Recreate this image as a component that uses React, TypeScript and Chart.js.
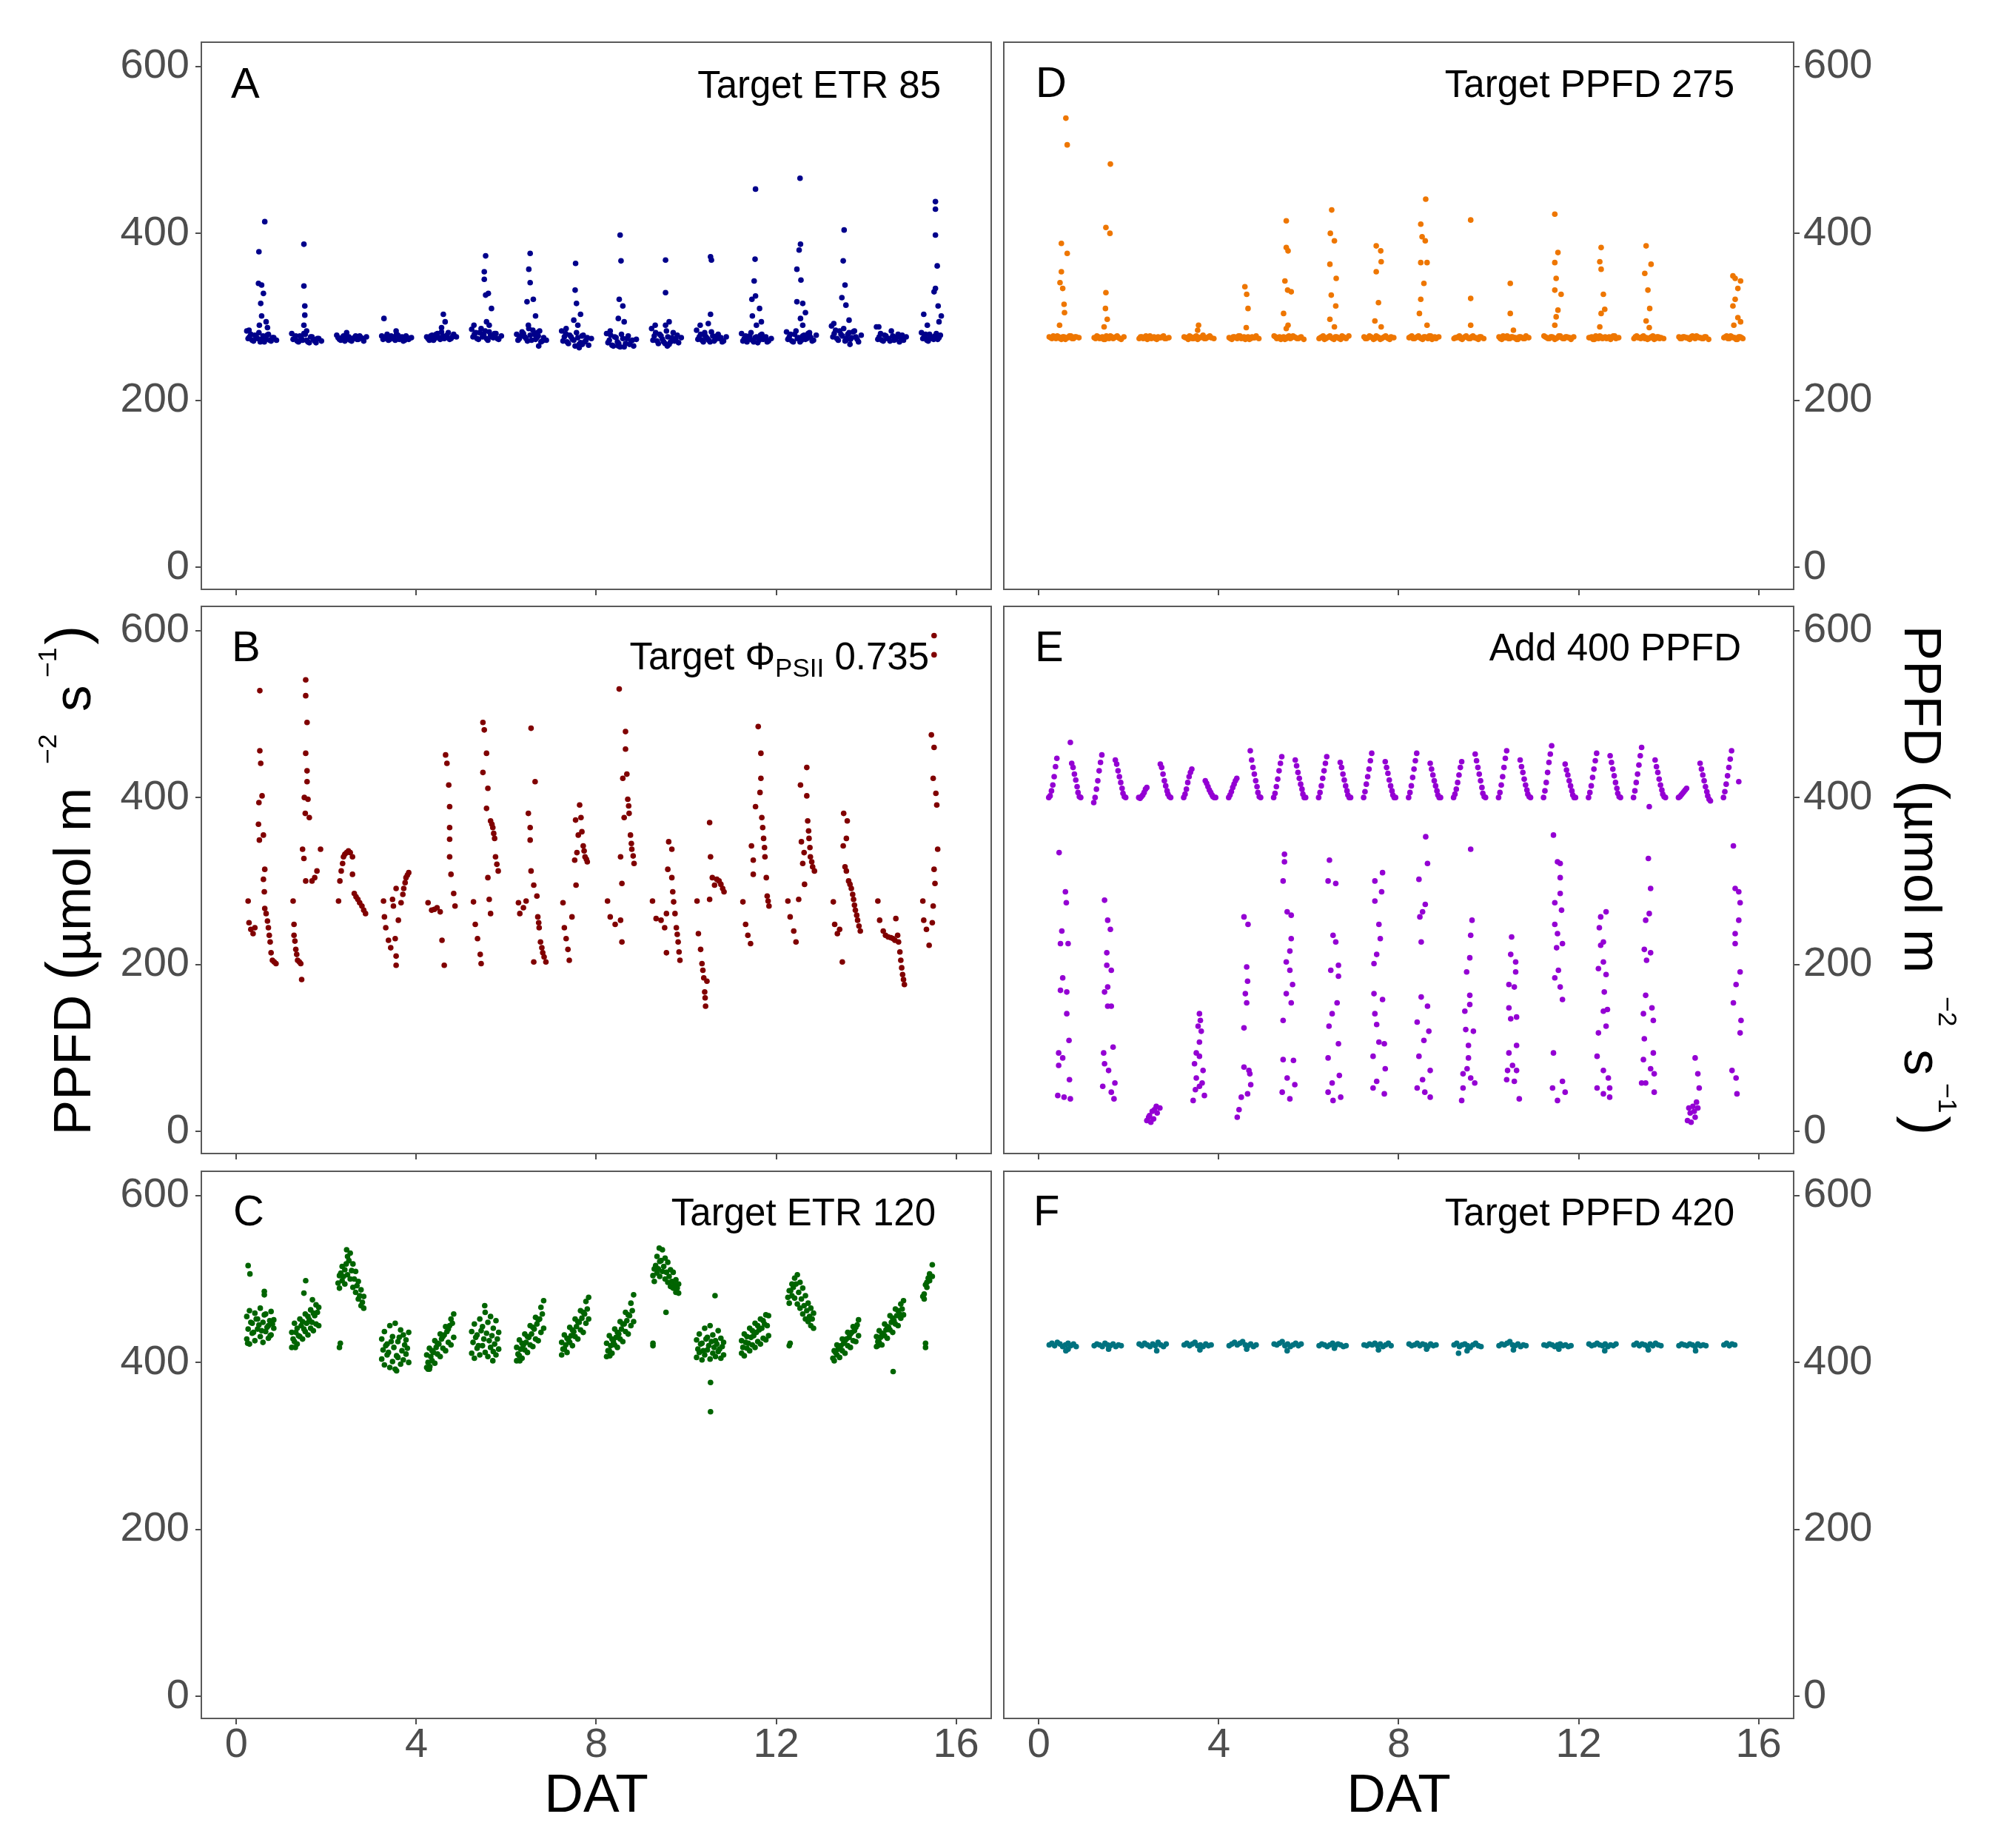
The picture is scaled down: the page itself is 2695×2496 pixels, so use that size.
import React, { useEffect, useRef } from 'react';
import { Chart, registerables } from 'chart.js';

Chart.register(...registerables);

const FONT = "'Liberation Sans', Arial, Helvetica, sans-serif";

// axes (shared by all six facets)
const xTicks = [0, 4, 8, 12, 16];
const yTicks = [0, 200, 400, 600];
const X_MIN = -0.78;
const X_MAX = 16.78;
const Y_MIN = -26.5;
const Y_MAX = 629;

// time of day (fraction of a day) of the regular readings
const slotFrac = [0.23, 0.29, 0.35, 0.41, 0.47, 0.53, 0.59, 0.65, 0.71, 0.77, 0.83, 0.89];
const slotMid = [0.26, 0.32, 0.38, 0.44, 0.5, 0.56, 0.62, 0.68, 0.74, 0.8];
// morning / evening readings of panel E
const eSlot = [0.22, 0.25, 0.28, 0.31, 0.34, 0.37, 0.4, 0.7, 0.73, 0.76, 0.79, 0.82, 0.85, 0.87, 0.9, 0.93];

const _ = null;

// ---- A : Target ETR 85 ----
const aBase = [
  [283, 276, 272, 278, 274, 270, 277, 273, 279, 271, 275, 272],
  [280, 274, 271, 277, 272, 279, 270, 276, 273, 269, 274, 271],
  [278, 273, 275, 271, 276, 272, 274, 277, 273, 275, 271, 276],
  [277, 274, 279, 273, 276, 272, 278, 274, 271, 277, 273, 275],
  [276, 272, 278, 274, 280, 273, 277, 275, 281, 274, 279, 276],
  [285, 279, 274, 281, 276, 283, 272, 278, 275, 280, 273, 277],
  [279, 274, 282, 276, 271, 278, 284, 273, 277, 270, 275, 272],
  [283, 276, 270, 278, 273, 265, 275, 269, 278, 272, 266, 274],
  [280, 272, 266, 276, 270, 264, 274, 268, 277, 271, 265, 273],
  [286, 277, 271, 279, 273, 268, 276, 270, 281, 274, 269, 275],
  [284, 276, 272, 278, 274, 270, 277, 273, 279, 275, 271, 276],
  [280, 274, 270, 277, 272, 275, 269, 278, 273, 276, 271, 274],
  [282, 276, 271, 279, 274, 270, 277, 273, 280, 275, 272, 278],
  [289, 280, 274, 283, 277, 271, 279, 273, 282, 276, 270, 278],
  [288, 276, 272, 278, 274, 271, 277, 273, 279, 275, 272, 276],
  [281, 276, 272, 279, 274, 277, 273, 278, _, _, _, _],
];
const aBase2 = [
  [274, 279, 271, 276, 281, 273, 270, 278, 272, 275],
  [273, 277, 270, 275, 280, 272, 269, 276, 271, 274],
  [275, 272, 277, 273, 276, 271, 275, 273, 277, 274],
  [273, 276, 272, 277, 274, 279, 273, 276, 272, 275],
  [274, 277, 272, 279, 275, 282, 274, 278, 273, 276],
  [276, 281, 273, 286, 279, 274, 282, 276, 280, 274],
  [272, 277, 280, 274, 286, 272, 279, 275, 283, 271],
  [271, 280, 268, 276, 272, 281, 267, 277, 270, 275],
  [269, 278, 265, 275, 268, 279, 264, 274, 267, 272],
  [272, 281, 268, 277, 270, 283, 267, 275, 271, 278],
  [273, 279, 270, 276, 272, 282, 271, 277, 274, 270],
  [271, 277, 273, 281, 270, 276, 272, 279, 274, 270],
  [273, 279, 270, 283, 275, 272, 278, 274, 281, 271],
  [276, 284, 272, 279, 286, 274, 281, 275, 283, 273],
  [273, 280, 271, 277, 274, 283, 272, 276, 270, 278],
  [274, 279, 271, 276, 273, 280, 275, _, _, _],
];
const aPeaks = [
  [[0.28, 284], [0.5, 378], [0.63, 414], [0.49, 340], [0.56, 338], [0.6, 328], [0.54, 316], [0.56, 301], [0.51, 290], [0.66, 294], [0.69, 287]],
  [[0.5, 387], [0.5, 337], [0.52, 313], [0.52, 302], [0.5, 290], [0.56, 283]],
  [[0.45, 281]],
  [[0.28, 298], [0.55, 283]],
  [[0.6, 303], [0.64, 294], [0.56, 287]],
  [[0.54, 373], [0.51, 354], [0.51, 345], [0.54, 326], [0.6, 328], [0.67, 310], [0.56, 294], [0.62, 290], [0.28, 290], [0.41, 281]],
  [[0.53, 376], [0.5, 357], [0.53, 341], [0.46, 318], [0.6, 321], [0.65, 301], [0.49, 290], [0.69, 281], [0.72, 265]],
  [[0.54, 364], [0.53, 332], [0.56, 316], [0.65, 303], [0.5, 296], [0.59, 290], [0.33, 286], [0.69, 267], [0.62, 263]],
  [[0.53, 398], [0.55, 367], [0.51, 321], [0.59, 313], [0.49, 298], [0.62, 294], [0.31, 283], [0.49, 265]],
  [[0.54, 368], [0.54, 329], [0.62, 294], [0.54, 290], [0.31, 290], [0.58, 265]],
  [[0.54, 372], [0.56, 368], [0.54, 303], [0.49, 292], [0.31, 290], [0.41, 281]],
  [[0.54, 453], [0.53, 369], [0.51, 343], [0.54, 325], [0.46, 321], [0.63, 310], [0.47, 301], [0.67, 294], [0.56, 290], [0.69, 276]],
  [[0.53, 466], [0.54, 387], [0.51, 380], [0.46, 357], [0.55, 344], [0.46, 318], [0.59, 316], [0.65, 305], [0.54, 298], [0.59, 290], [0.74, 278]],
  [[0.51, 404], [0.49, 367], [0.53, 338], [0.46, 323], [0.55, 314], [0.62, 296], [0.28, 292], [0.55, 272], [0.64, 267]],
  [[0.28, 288]],
  [[0.54, 438], [0.54, 429], [0.54, 398], [0.58, 361], [0.54, 334], [0.51, 330], [0.6, 313], [0.67, 301], [0.28, 303], [0.36, 290], [0.62, 294], [0.41, 276]],
];

// ---- B : Target PhiPSII 0.735 ----
const bDays = [
  [[0.26, 276], [0.28, 250], [0.32, 242], [0.37, 237], [0.41, 244], [0.52, 528], [0.52, 456], [0.54, 441], [0.57, 402], [0.5, 394], [0.49, 368], [0.6, 355], [0.51, 349], [0.63, 314], [0.6, 302], [0.62, 287], [0.63, 267], [0.66, 261], [0.69, 252], [0.71, 244], [0.73, 235], [0.75, 227], [0.77, 214], [0.8, 205], [0.84, 203], [0.88, 201]],
  [[0.26, 276], [0.28, 248], [0.28, 235], [0.3, 228], [0.32, 218], [0.34, 212], [0.36, 205], [0.4, 203], [0.43, 201], [0.45, 182], [0.54, 541], [0.54, 522], [0.57, 490], [0.54, 453], [0.57, 432], [0.57, 419], [0.51, 400], [0.59, 398], [0.53, 381], [0.62, 376], [0.47, 338], [0.5, 327], [0.54, 300], [0.68, 300], [0.74, 304], [0.79, 312], [0.87, 338]],
  [[0.27, 276], [0.3, 300], [0.33, 312], [0.36, 321], [0.38, 329], [0.41, 332], [0.45, 334], [0.49, 336], [0.53, 334], [0.58, 329], [0.58, 308], [0.62, 285], [0.66, 281], [0.7, 278], [0.74, 274], [0.79, 270], [0.83, 265], [0.87, 261]],
  [[0.27, 276], [0.29, 257], [0.32, 244], [0.38, 229], [0.43, 220], [0.55, 199], [0.53, 231], [0.49, 270], [0.55, 291], [0.47, 278], [0.6, 253], [0.66, 274], [0.7, 284], [0.72, 291], [0.75, 298], [0.77, 304], [0.8, 307], [0.83, 310], [0.55, 210]],
  [[0.26, 274], [0.34, 265], [0.4, 266], [0.46, 268], [0.53, 263], [0.57, 229], [0.62, 199], [0.65, 451], [0.68, 441], [0.72, 415], [0.74, 389], [0.74, 364], [0.74, 350], [0.74, 329], [0.77, 308], [0.83, 285], [0.86, 270]],
  [[0.27, 275], [0.31, 248], [0.36, 231], [0.42, 212], [0.44, 201], [0.48, 490], [0.51, 481], [0.56, 453], [0.48, 430], [0.59, 411], [0.56, 387], [0.65, 372], [0.68, 368], [0.7, 364], [0.72, 357], [0.74, 351], [0.76, 329], [0.79, 320], [0.82, 312], [0.59, 304], [0.62, 278], [0.65, 261]],
  [[0.27, 274], [0.3, 261], [0.38, 268], [0.44, 276], [0.49, 381], [0.53, 364], [0.53, 349], [0.55, 483], [0.64, 419], [0.55, 312], [0.61, 295], [0.68, 282], [0.7, 257], [0.72, 250], [0.73, 244], [0.76, 227], [0.79, 220], [0.81, 214], [0.84, 209], [0.88, 203], [0.61, 203]],
  [[0.26, 274], [0.29, 244], [0.33, 231], [0.37, 218], [0.4, 205], [0.46, 257], [0.55, 295], [0.57, 334], [0.54, 373], [0.63, 391], [0.66, 376], [0.68, 359], [0.71, 342], [0.73, 336], [0.75, 329], [0.78, 326], [0.8, 323], [0.6, 355], [0.52, 325]],
  [[0.25, 276], [0.31, 257], [0.42, 248], [0.54, 253], [0.51, 530], [0.65, 479], [0.65, 458], [0.59, 423], [0.68, 428], [0.7, 398], [0.72, 390], [0.73, 381], [0.76, 355], [0.78, 345], [0.79, 338], [0.82, 330], [0.84, 321], [0.54, 329], [0.57, 297], [0.62, 376], [0.57, 227]],
  [[0.25, 276], [0.33, 255], [0.44, 253], [0.52, 244], [0.56, 214], [0.61, 347], [0.68, 338], [0.59, 314], [0.68, 304], [0.7, 287], [0.72, 275], [0.75, 261], [0.78, 244], [0.8, 236], [0.82, 227], [0.84, 215], [0.86, 205], [0.56, 261]],
  [[0.24, 276], [0.27, 237], [0.32, 218], [0.35, 201], [0.37, 193], [0.39, 184], [0.41, 167], [0.42, 160], [0.43, 150], [0.46, 180], [0.52, 370], [0.54, 329], [0.58, 304], [0.52, 278], [0.63, 295], [0.68, 302], [0.73, 300], [0.77, 296], [0.81, 291], [0.84, 287]],
  [[0.26, 275], [0.32, 248], [0.37, 235], [0.43, 225], [0.45, 342], [0.49, 325], [0.49, 308], [0.54, 389], [0.6, 485], [0.66, 453], [0.66, 423], [0.64, 406], [0.68, 376], [0.7, 364], [0.72, 351], [0.74, 340], [0.75, 329], [0.78, 304], [0.8, 282], [0.82, 276], [0.84, 270]],
  [[0.26, 276], [0.31, 257], [0.39, 240], [0.44, 227], [0.5, 278], [0.54, 415], [0.68, 436], [0.56, 347], [0.62, 334], [0.68, 402], [0.7, 372], [0.72, 360], [0.73, 351], [0.75, 340], [0.76, 329], [0.79, 323], [0.81, 317], [0.85, 312], [0.63, 296], [0.59, 321]],
  [[0.27, 275], [0.3, 248], [0.36, 237], [0.41, 242], [0.47, 203], [0.5, 381], [0.58, 372], [0.56, 351], [0.49, 342], [0.53, 317], [0.56, 312], [0.61, 300], [0.64, 296], [0.67, 291], [0.7, 284], [0.72, 278], [0.74, 271], [0.76, 265], [0.79, 259], [0.81, 253], [0.84, 246], [0.87, 240]],
  [[0.26, 276], [0.3, 253], [0.38, 240], [0.43, 235], [0.49, 233], [0.55, 232], [0.6, 231], [0.64, 229], [0.66, 255], [0.7, 235], [0.72, 227], [0.75, 215], [0.77, 205], [0.79, 196], [0.81, 188], [0.83, 182], [0.85, 176]],
  [[0.26, 276], [0.28, 253], [0.34, 242], [0.4, 223], [0.45, 475], [0.51, 460], [0.49, 423], [0.55, 405], [0.57, 391], [0.59, 338], [0.51, 314], [0.53, 297], [0.49, 270], [0.47, 250], [0.51, 594], [0.51, 571]],
];

// ---- C : Target ETR 120 ----
const cLow = [
  [428, 422, 435, 426, 440, 431, 424, 437, 429, 433, 441, _],
  [418, 425, 422, 431, 428, 437, 433, 441, 438, 446, 444, _],
  [_, 489, 498, 494, 505, 500, 490, 484, 476, 468, 465, _],
  [404, 397, 409, 394, 401, 392, 406, 398, 403, 410, 400, _],
  [394, 392, 402, 399, 410, 407, 417, 414, 424, 421, 430, _],
  [411, 405, 417, 409, 420, 412, 407, 418, 413, 409, 416, _],
  [402, 408, 405, 415, 412, 421, 419, 428, 426, 436, 441, _],
  [409, 416, 412, 424, 420, 431, 428, 439, 436, 447, 452, _],
  [407, 414, 411, 421, 418, 428, 425, 437, 434, 444, 449, _],
  [_, 497, 507, 503, 509, 500, 496, 491, 489, 484, 483, _],
  [406, 412, 403, 409, 415, 404, 411, 407, 413, 405, 409, _],
  [411, 408, 417, 414, 421, 418, 425, 422, 429, 427, 432, _],
  [_, 471, 480, 477, 470, 465, 458, 452, 449, 444, 441, _],
  [_, 402, 409, 406, 414, 411, 420, 418, 426, 425, 432, _],
  [419, 424, 421, 432, 429, 439, 436, 446, 444, 453, 457, _],
  [_, 476, 490, 498, 503, _, _, _, _, _, _, _],
];
const cHigh = [
  [455, 462, 447, 459, 452, 465, 448, 458, 444, 461, 451, _],
  [436, 447, 441, 452, 449, 458, 455, 463, 459, 469, 466, _],
  [_, 504, 515, 511, 527, 531, 518, 509, 497, 487, 479, _],
  [428, 437, 422, 444, 431, 447, 425, 439, 433, 427, 436, _],
  [409, 417, 414, 426, 423, 434, 431, 443, 440, 452, 458, _],
  [437, 446, 433, 452, 443, 460, 448, 455, 441, 450, 436, _],
  [418, 427, 423, 434, 431, 444, 442, 454, 451, 466, 474, _],
  [424, 433, 429, 442, 439, 452, 449, 462, 460, 473, 478, _],
  [423, 432, 428, 440, 436, 449, 446, 460, 457, 471, 481, _],
  [_, 512, 527, 521, 535, 525, 520, 511, 508, 499, 494, _],
  [427, 434, 423, 441, 430, 444, 433, 426, 438, 429, 424, _],
  [426, 434, 431, 441, 438, 447, 444, 452, 450, 457, 456, _],
  [_, 486, 494, 501, 505, 496, 489, 480, 471, 465, 459, _],
  [_, 414, 421, 419, 428, 426, 436, 434, 443, 442, 451, _],
  [431, 438, 435, 446, 443, 456, 453, 464, 462, 470, 474, _],
  [_, 482, 496, 506, 517, _, _, _, _, _, _, _],
];
const cMid = [
  [440, 448, 436, 452, 445, 438, 457, 442, 450, 446],
  [428, 436, 432, 444, 440, 447, 451, 448, 456, 460],
  [495, 507, 503, 518, 522, 510, 500, 492, 480, 472],
  [415, 420, 412, 425, 418, 408, 430, 414, 421, 417],
  [400, 407, 412, 418, 422, 428, 433, 437, 444, 447],
  [424, 430, 420, 438, 428, 435, 426, 432, 422, 428],
  [410, 416, 421, 424, 430, 434, 440, 446, 452, 458],
  [416, 421, 427, 432, 437, 443, 448, 453, 458, 464],
  [414, 420, 425, 430, 434, 440, 446, 450, 456, 462],
  [504, 516, 512, 522, 515, 508, 503, 497, 493, 489],
  [416, 422, 414, 428, 420, 425, 418, 422, 416, 419],
  [418, 424, 423, 430, 432, 436, 439, 441, 446, 444],
  [478, 486, 490, 494, 484, 476, 468, 462, 455, 452],
  [405, 412, 416, 420, 423, 428, 430, 436, 438, 445],
  [425, 430, 434, 439, 442, 448, 450, 456, 458, 464],
  [479, 493, 501, _, _, _, _, _, _, _],
];
const cOut = [
  [[0.26, 516], [0.3, 506], [0.62, 485], [0.62, 481], [0.25, 423], [0.75, 432]],
  [[0.54, 498], [0.5, 483], [0.69, 475], [0.31, 418]],
  [[0.31, 423], [0.29, 418], [0.45, 535]],
  [[0.56, 390]],
  [[0.26, 392], [0.3, 395]],
  [[0.52, 468], [0.7, 402]],
  [[0.3, 402]],
  [],
  [[0.3, 408]],
  [[0.26, 420], [0.26, 423], [0.55, 460], [0.4, 537]],
  [[0.54, 376], [0.54, 341], [0.64, 480]],
  [],
  [[0.31, 423], [0.29, 420]],
  [],
  [[0.6, 389], [0.26, 420]],
  [[0.32, 423], [0.32, 418]],
];

// ---- D : Target PPFD 275 ----
const dBase = [
  [276, 274, 275, 277, 274, 276, 273, 275, 277, 274, 276, 275],
  [275, 277, 274, 276, 273, 275, 277, 274, 276, 275, 273, 276],
  [274, 276, 275, 273, 277, 275, 274, 276, 275, 277, 274, 275],
  [276, 275, 277, 274, 276, 273, 275, 278, 274, 276, 275, 274],
  [275, 273, 276, 274, 277, 275, 273, 276, 274, 275, 277, 274],
  [277, 274, 276, 275, 273, 276, 274, 277, 275, 274, 276, 273],
  [274, 276, 273, 275, 277, 274, 276, 275, 273, 276, 274, 277],
  [276, 274, 277, 275, 274, 276, 273, 275, 277, 274, 276, 275],
  [275, 277, 274, 276, 275, 273, 276, 274, 277, 275, 274, 276],
  [274, 275, 277, 273, 276, 275, 274, 277, 275, 273, 276, 274],
  [276, 273, 275, 277, 274, 276, 275, 273, 276, 274, 277, 275],
  [277, 275, 274, 276, 273, 275, 277, 274, 276, 275, 273, 276],
  [275, 276, 273, 275, 277, 274, 276, 275, 273, 277, 274, 275],
  [274, 277, 275, 276, 274, 273, 275, 277, 274, 276, 275, 274],
  [276, 274, 276, 275, 273, 277, 274, 276, 275, 274, 276, 273],
  [275, 277, 274, 276, 275, 273, 276, 274, _, _, _, _],
];
const dBase2 = [
  [275, 277, 274, 276, 273, 276, 275, 277, 274, 276],
  [274, 276, 275, 273, 277, 274, 276, 275, 277, 274],
  [276, 274, 277, 275, 274, 276, 273, 275, 276, 274],
  [275, 273, 276, 274, 277, 275, 276, 274, 275, 277],
  [274, 276, 275, 277, 274, 276, 275, 273, 276, 275],
  [276, 275, 273, 276, 274, 277, 275, 276, 274, 275],
  [275, 277, 274, 276, 275, 273, 276, 274, 277, 275],
  [274, 275, 276, 273, 277, 275, 274, 276, 275, 273],
  [276, 274, 275, 277, 274, 276, 275, 277, 273, 276],
  [275, 276, 274, 275, 277, 274, 276, 275, 274, 276],
  [274, 277, 275, 274, 276, 275, 273, 276, 275, 274],
  [276, 274, 276, 275, 274, 277, 275, 274, 276, 275],
  [275, 273, 277, 274, 276, 275, 274, 276, 275, 277],
  [276, 275, 274, 277, 275, 274, 276, 273, 276, 274],
  [274, 276, 275, 274, 276, 275, 277, 275, 274, 276],
  [276, 274, 277, 275, 273, 276, 275, _, _, _],
];
const dPeaks = [
  [[0.6, 538], [0.63, 506], [0.5, 388], [0.63, 376], [0.5, 354], [0.47, 341], [0.53, 334], [0.56, 315], [0.57, 305], [0.46, 290]],
  [[0.59, 483], [0.49, 407], [0.58, 400], [0.49, 329], [0.48, 310], [0.52, 297], [0.45, 288]],
  [],
  [[0.55, 290], [0.53, 284]],
  [[0.58, 336], [0.62, 327], [0.65, 310], [0.61, 287]],
  [[0.5, 415], [0.5, 383], [0.54, 379], [0.47, 343], [0.53, 332], [0.61, 330], [0.44, 304], [0.54, 290], [0.5, 286]],
  [[0.51, 428], [0.48, 400], [0.57, 391], [0.47, 363], [0.61, 346], [0.5, 326], [0.6, 313], [0.47, 297], [0.57, 288]],
  [[0.5, 385], [0.6, 379], [0.61, 366], [0.5, 354], [0.55, 317], [0.47, 295], [0.61, 288]],
  [[0.6, 441], [0.49, 411], [0.52, 396], [0.59, 391], [0.49, 365], [0.63, 365], [0.56, 340], [0.49, 321], [0.46, 304], [0.63, 290]],
  [[0.6, 416], [0.6, 322], [0.6, 290]],
  [[0.48, 340], [0.48, 304], [0.55, 284]],
  [[0.47, 423], [0.54, 377], [0.47, 365], [0.5, 346], [0.47, 332], [0.61, 327], [0.54, 308], [0.5, 300], [0.47, 290]],
  [[0.5, 383], [0.47, 366], [0.5, 357], [0.55, 327], [0.58, 309], [0.5, 304], [0.47, 288]],
  [[0.5, 385], [0.61, 363], [0.47, 352], [0.54, 332], [0.58, 310], [0.5, 295], [0.57, 287]],
  [],
  [[0.43, 349], [0.48, 346], [0.6, 343], [0.54, 334], [0.48, 321], [0.43, 313], [0.54, 299], [0.45, 290], [0.6, 294]],
];

// ---- E : Add 400 PPFD ----
const eRamp = [
  [400, 402, 408, 415, 425, 437, 447, 466, 441, 436, 428, 421, 413, 406, 401, 400],
  [394, 400, 410, 420, 432, 442, 451, 445, 440, 432, 425, 418, 411, 405, 401, 400],
  [400, 399, 401, 403, 406, 410, 412, 440, 436, 428, 420, 414, 408, 404, 401, 400],
  [400, 404, 410, 418, 425, 430, 434, 420, 417, 413, 409, 406, 403, 401, 400, 400],
  [400, 403, 407, 412, 416, 420, 423, 456, 445, 436, 428, 420, 413, 406, 401, 400],
  [400, 405, 413, 422, 432, 441, 449, 445, 438, 430, 423, 416, 410, 404, 400, 400],
  [400, 406, 414, 423, 432, 441, 449, 442, 436, 428, 421, 414, 408, 403, 400, 400],
  [400, 407, 416, 425, 434, 444, 453, 443, 436, 429, 421, 414, 408, 403, 400, 400],
  [400, 406, 414, 424, 434, 444, 453, 441, 434, 427, 420, 414, 408, 403, 400, 400],
  [400, 404, 410, 418, 427, 436, 443, 452, 444, 436, 428, 420, 412, 405, 401, 400],
  [400, 406, 415, 425, 436, 447, 456, 445, 437, 430, 422, 415, 409, 404, 401, 400],
  [400, 408, 418, 430, 442, 452, 462, 440, 433, 427, 420, 414, 408, 403, 400, 400],
  [400, 406, 414, 424, 434, 444, 453, 450, 442, 434, 426, 418, 411, 405, 401, 400],
  [400, 408, 418, 428, 439, 450, 460, 445, 437, 430, 422, 415, 409, 404, 401, 400],
  [400, 401, 403, 405, 407, 409, 411, 441, 434, 427, 420, 413, 407, 402, 398, 396],
  [400, 407, 416, 426, 436, 446, 456, _, _, _, _, _, _, _, _, _],
];
const eMid = [
  [[0.45, 334], [0.59, 287], [0.61, 274], [0.51, 240], [0.48, 225], [0.65, 225], [0.53, 184], [0.48, 169], [0.62, 167], [0.62, 141], [0.67, 109], [0.44, 94], [0.53, 88], [0.44, 79], [0.68, 62], [0.42, 43], [0.56, 41], [0.7, 39]],
  [[0.46, 277], [0.53, 253], [0.59, 242], [0.51, 214], [0.51, 199], [0.61, 193], [0.53, 173], [0.46, 167], [0.53, 150], [0.61, 150], [0.65, 101], [0.44, 94], [0.46, 81], [0.55, 73], [0.69, 58], [0.42, 54], [0.61, 47], [0.67, 39]],
  [[0.4, 13], [0.46, 19], [0.52, 24], [0.57, 26], [0.63, 22], [0.69, 28], [0.55, 15], [0.49, 11], [0.61, 30], [0.44, 17]],
  [[0.57, 141], [0.59, 133], [0.54, 126], [0.61, 120], [0.57, 107], [0.5, 94], [0.57, 90], [0.46, 81], [0.65, 73], [0.5, 64], [0.57, 54], [0.48, 50], [0.43, 37], [0.68, 43], [0.63, 58]],
  [[0.56, 257], [0.65, 248], [0.62, 197], [0.64, 180], [0.59, 165], [0.62, 154], [0.56, 124], [0.56, 77], [0.67, 73], [0.71, 56], [0.5, 41], [0.64, 45], [0.45, 26], [0.41, 17], [0.69, 69]],
  [[0.46, 332], [0.46, 323], [0.43, 300], [0.52, 263], [0.61, 259], [0.61, 231], [0.58, 216], [0.5, 203], [0.58, 193], [0.64, 176], [0.5, 165], [0.61, 154], [0.43, 133], [0.43, 86], [0.66, 85], [0.52, 64], [0.69, 56], [0.41, 47], [0.58, 39]],
  [[0.46, 325], [0.43, 300], [0.6, 297], [0.54, 235], [0.6, 227], [0.49, 193], [0.66, 199], [0.66, 186], [0.63, 154], [0.52, 141], [0.45, 126], [0.66, 105], [0.43, 88], [0.68, 67], [0.52, 58], [0.43, 47], [0.54, 37], [0.71, 41]],
  [[0.47, 300], [0.64, 310], [0.62, 287], [0.47, 276], [0.56, 248], [0.59, 231], [0.51, 212], [0.45, 201], [0.45, 165], [0.64, 158], [0.47, 141], [0.51, 128], [0.56, 107], [0.68, 105], [0.43, 90], [0.7, 75], [0.51, 60], [0.43, 52], [0.68, 45]],
  [[0.6, 353], [0.64, 321], [0.45, 302], [0.59, 272], [0.53, 263], [0.47, 257], [0.5, 227], [0.5, 161], [0.64, 150], [0.41, 131], [0.67, 120], [0.56, 109], [0.45, 90], [0.7, 73], [0.53, 62], [0.41, 52], [0.58, 47], [0.7, 41]],
  [[0.6, 338], [0.63, 253], [0.6, 235], [0.58, 208], [0.51, 191], [0.58, 163], [0.58, 152], [0.47, 144], [0.49, 122], [0.66, 120], [0.55, 103], [0.55, 88], [0.52, 75], [0.43, 69], [0.6, 64], [0.69, 58], [0.43, 52], [0.4, 37]],
  [[0.51, 233], [0.49, 212], [0.6, 203], [0.6, 191], [0.45, 176], [0.57, 173], [0.62, 137], [0.45, 148], [0.49, 135], [0.62, 103], [0.45, 94], [0.53, 79], [0.62, 73], [0.42, 73], [0.57, 60], [0.4, 62], [0.68, 39]],
  [[0.44, 355], [0.53, 323], [0.59, 321], [0.59, 304], [0.59, 285], [0.47, 274], [0.62, 265], [0.47, 248], [0.53, 237], [0.64, 225], [0.51, 220], [0.55, 193], [0.47, 184], [0.59, 173], [0.64, 158], [0.44, 94], [0.64, 60], [0.42, 52], [0.53, 37], [0.7, 47]],
  [[0.61, 263], [0.49, 257], [0.46, 244], [0.55, 227], [0.49, 223], [0.55, 203], [0.44, 195], [0.61, 188], [0.57, 167], [0.55, 144], [0.64, 146], [0.61, 126], [0.44, 118], [0.41, 90], [0.55, 73], [0.66, 64], [0.41, 52], [0.69, 52], [0.55, 45], [0.69, 41]],
  [[0.57, 389], [0.55, 327], [0.6, 291], [0.57, 261], [0.49, 253], [0.46, 218], [0.6, 214], [0.51, 205], [0.49, 163], [0.63, 148], [0.44, 141], [0.66, 133], [0.46, 111], [0.66, 94], [0.44, 86], [0.6, 75], [0.68, 69], [0.49, 58], [0.68, 47], [0.4, 58]],
  [[0.59, 88], [0.65, 69], [0.68, 52], [0.42, 13], [0.48, 22], [0.54, 30], [0.59, 17], [0.45, 28], [0.57, 24], [0.5, 11], [0.65, 28], [0.62, 35]],
  [[0.56, 419], [0.44, 342], [0.48, 291], [0.56, 287], [0.59, 274], [0.56, 253], [0.48, 237], [0.48, 225], [0.59, 191], [0.5, 176], [0.44, 154], [0.61, 133], [0.59, 118], [0.41, 73], [0.5, 64], [0.52, 45]],
];

// ---- F : Target PPFD 420 ----
const fBand = [
  [421, 423, 420, 424, 422, 419, 421, 423, 420, 422, 419, _],
  [420, 422, 421, 419, 423, 421, 420, 422, 419, 421, 420, _],
  [422, 420, 423, 421, 419, 422, 420, 424, 421, 419, 422, _],
  [421, 423, 420, 422, 424, 420, 421, 419, 422, 420, 421, _],
  [420, 422, 424, 421, 423, 425, 421, 420, 422, 419, 421, _],
  [422, 421, 423, 425, 420, 422, 419, 421, 423, 420, 422, _],
  [420, 422, 421, 419, 421, 423, 420, 422, 421, 419, 420, _],
  [421, 420, 422, 421, 423, 420, 422, 419, 421, 423, 420, _],
  [422, 420, 421, 423, 420, 422, 421, 419, 422, 420, 421, _],
  [421, 423, 419, 421, 422, 420, 418, 421, 423, 420, 419, _],
  [420, 422, 421, 423, 425, 421, 420, 422, 419, 421, 420, _],
  [421, 420, 422, 421, 419, 421, 422, 420, 421, 419, 420, _],
  [422, 420, 421, 423, 421, 420, 422, 419, 421, 420, 422, _],
  [421, 423, 420, 422, 421, 419, 422, 420, 423, 421, 420, _],
  [420, 422, 421, 420, 422, 421, 419, 422, 420, 421, 420, _],
  [421, 423, 420, 422, 421, _, _, _, _, _, _, _],
];
const fOut = [
  [[0.6, 414], [0.65, 416]], [[0.55, 416]], [[0.62, 414]], [[0.58, 415]],
  [[0.62, 416]], [[0.52, 414]], [[0.57, 417]], [[0.55, 415]],
  [[0.62, 416]], [[0.33, 411], [0.52, 414]], [[0.55, 415]], [[0.56, 416]],
  [[0.58, 414]], [[0.55, 415]], [[0.6, 414]], [],
];

type Pt = { x: number; y: number };

const fromSlots = (days: (number | null)[][], slots: number[]): Pt[] => {
  const out: Pt[] = [];
  days.forEach((vals, d) =>
    vals.forEach((v, i) => {
      if (v !== null) out.push({ x: d + slots[i], y: v });
    })
  );
  return out;
};

const fromPairs = (days: number[][][]): Pt[] => {
  const out: Pt[] = [];
  days.forEach((pairs, d) => pairs.forEach(([f, v]) => out.push({ x: d + f, y: v })));
  return out;
};

// page geometry (px)
const COL_X = [272, 1356];
const ROW_Y = [57, 819, 1582];
const PW = 1067;
const PH = 739;
const AXW = 150; // room for y tick labels
const SIDE = 14;
const PT = 60;
const PB = 60;
const PB_LAST = 110;

interface LabelPart {
  text: string;
  sub?: boolean;
}

interface PanelSpec {
  id: string;
  col: number;
  row: number;
  color: string;
  points: Pt[];
  letterDx: number;
  letterDy: number;
  label: LabelPart[];
  labelInset: number;
  labelDy: number;
}

const panels: PanelSpec[] = [
  {
    id: 'A', col: 0, row: 0, color: '#00008B',
    points: [...fromSlots(aBase, slotFrac), ...fromSlots(aBase2, slotMid), ...fromPairs(aPeaks)],
    letterDx: 40, letterDy: 75, label: [{ text: 'Target ETR 85' }], labelInset: 68, labelDy: 75,
  },
  {
    id: 'B', col: 0, row: 1, color: '#800000',
    points: fromPairs(bDays),
    letterDx: 41, letterDy: 74,
    label: [{ text: 'Target \u03A6' }, { text: 'PSII', sub: true }, { text: ' 0.735' }],
    labelInset: 84, labelDy: 85,
  },
  {
    id: 'C', col: 0, row: 2, color: '#006400',
    points: [
      ...fromSlots(cLow, slotFrac),
      ...fromSlots(cHigh, slotFrac),
      ...fromSlots(cMid, slotMid),
      ...fromPairs(cOut),
    ],
    letterDx: 43, letterDy: 73, label: [{ text: 'Target ETR 120' }], labelInset: 75, labelDy: 73,
  },
  {
    id: 'D', col: 1, row: 0, color: '#EE7600',
    points: [...fromSlots(dBase, slotFrac), ...fromSlots(dBase2, slotMid), ...fromPairs(dPeaks)],
    letterDx: 43, letterDy: 74, label: [{ text: 'Target PPFD 275' }], labelInset: 80, labelDy: 74,
  },
  {
    id: 'E', col: 1, row: 1, color: '#9400D3',
    points: [...fromSlots(eRamp, eSlot), ...fromPairs(eMid)],
    letterDx: 42, letterDy: 74, label: [{ text: 'Add 400 PPFD' }], labelInset: 71, labelDy: 73,
  },
  {
    id: 'F', col: 1, row: 2, color: '#00727F',
    points: [...fromSlots(fBand, slotFrac), ...fromPairs(fOut)],
    letterDx: 40, letterDy: 73, label: [{ text: 'Target PPFD 420' }], labelInset: 80, labelDy: 73,
  },
];

const TICK_COLOR = '#4D4D4D';
const FRAME_COLOR = '#5A5A5A';

function Panel({ spec }: { spec: PanelSpec }) {
  const canvasRef = useRef<HTMLCanvasElement>(null);
  const isLeft = spec.col === 0;
  const last = spec.row === 2;
  const pb = last ? PB_LAST : PB;
  const width = AXW + PW + SIDE;
  const height = PT + PH + pb;
  const left = isLeft ? COL_X[0] - AXW : COL_X[1] - SIDE;
  const top = ROW_Y[spec.row] - PT;

  useEffect(() => {
    if (!canvasRef.current) return;
    const ctx = canvasRef.current.getContext('2d');
    if (!ctx) return;

    // frame + panel letter + treatment label
    const decor = {
      id: 'decor' + spec.id,
      afterDatasetsDraw(chart: Chart) {
        const c = chart.ctx;
        const a = chart.chartArea;
        c.save();
        c.strokeStyle = FRAME_COLOR;
        c.lineWidth = 2;
        c.strokeRect(a.left, a.top, a.right - a.left, a.bottom - a.top);
        c.fillStyle = '#000';
        c.textBaseline = 'alphabetic';
        c.textAlign = 'left';
        c.font = `58px ${FONT}`;
        c.fillText(spec.id, a.left + spec.letterDx, a.top + spec.letterDy);

        const fontOf = (p: LabelPart) => (p.sub ? `35px ${FONT}` : `51px ${FONT}`);
        let total = 0;
        spec.label.forEach((p) => {
          c.font = fontOf(p);
          total += c.measureText(p.text).width;
        });
        let x = a.right - spec.labelInset - total;
        const base = a.top + spec.labelDy;
        spec.label.forEach((p) => {
          c.font = fontOf(p);
          c.fillText(p.text, x, p.sub ? base + 10 : base);
          x += c.measureText(p.text).width;
        });
        c.restore();
      },
    };

    const chart = new Chart(ctx, {
      type: 'scatter',
      data: {
        datasets: [
          {
            data: spec.points,
            backgroundColor: spec.color,
            borderWidth: 0,
            pointRadius: 3.8,
            pointHoverRadius: 3.8,
          },
        ],
      },
      options: {
        animation: false,
        responsive: false,
        events: [],
        layout: {
          padding: { top: PT, bottom: 0, left: isLeft ? 0 : SIDE, right: isLeft ? SIDE : 0 },
        },
        plugins: { legend: { display: false }, tooltip: { enabled: false } },
        scales: {
          x: {
            type: 'linear',
            position: 'bottom',
            min: X_MIN,
            max: X_MAX,
            afterBuildTicks: (s: any) => {
              s.ticks = xTicks.map((v) => ({ value: v }));
            },
            afterFit: (s: any) => {
              s.height = pb;
            },
            border: { display: false },
            grid: { drawOnChartArea: false, drawTicks: true, tickLength: 8, color: TICK_COLOR, lineWidth: 2 },
            ticks: {
              display: last,
              padding: 1,
              maxRotation: 0,
              color: TICK_COLOR,
              font: { family: FONT, size: 56, lineHeight: 1 },
            },
          },
          y: {
            type: 'linear',
            position: isLeft ? 'left' : 'right',
            min: Y_MIN,
            max: Y_MAX,
            afterBuildTicks: (s: any) => {
              s.ticks = yTicks.map((v) => ({ value: v }));
            },
            afterFit: (s: any) => {
              s.width = AXW;
            },
            border: { display: false },
            grid: { drawOnChartArea: false, drawTicks: true, tickLength: 8, color: TICK_COLOR, lineWidth: 2 },
            ticks: {
              padding: isLeft ? 8 : 5,
              color: TICK_COLOR,
              font: { family: FONT, size: 56 },
            },
          },
        },
      },
      plugins: [decor],
    });

    return () => {
      chart.destroy();
    };
  }, [spec]);

  return (
    <canvas
      ref={canvasRef}
      width={width}
      height={height}
      style={{ position: 'absolute', left, top, width, height }}
    />
  );
}

function Sup({ children, before, after }: { children: React.ReactNode; before: string; after: string }) {
  return (
    <span
      style={{ fontSize: '0.5em', position: 'relative', top: '-1.3em', marginLeft: before, marginRight: after }}
    >
      {children}
    </span>
  );
}

function Paren({ children }: { children: React.ReactNode }) {
  return <span style={{ fontSize: '1.1em', lineHeight: 0, position: 'relative', top: '-0.06em' }}>{children}</span>;
}

function YTitle({ cx, cy, rot }: { cx: number; cy: number; rot: number }) {
  return (
    <div
      style={{
        position: 'absolute',
        left: cx - 500,
        top: cy - 60,
        width: 1000,
        height: 120,
        lineHeight: '120px',
        textAlign: 'center',
        fontSize: 71,
        color: '#000',
        whiteSpace: 'nowrap',
        transform: `rotate(${rot}deg)`,
      }}
    >
      PPFD <Paren>(</Paren>µmol m
      <Sup before="0.9em" after="0.3em">
        −2
      </Sup>{' '}
      s
      <Sup before="0.3em" after="0.1em">
        −1
      </Sup>
      <Paren>)</Paren>
    </div>
  );
}

function XTitle({ cx }: { cx: number }) {
  return (
    <div
      style={{
        position: 'absolute',
        left: cx - 200,
        top: 2372,
        width: 400,
        height: 100,
        lineHeight: '100px',
        textAlign: 'center',
        fontSize: 73,
        color: '#000',
      }}
    >
      DAT
    </div>
  );
}

export default function App() {
  return (
    <div
      style={{
        position: 'absolute',
        left: 0,
        top: 0,
        width: 2695,
        height: 2496,
        background: '#fff',
        fontFamily: FONT,
        overflow: 'hidden',
      }}
    >
      {panels.map((p) => (
        <Panel key={p.id} spec={p} />
      ))}
      <YTitle cx={98} cy={1189} rot={-90} />
      <YTitle cx={2597} cy={1189} rot={90} />
      <XTitle cx={COL_X[0] + PW / 2} />
      <XTitle cx={COL_X[1] + PW / 2} />
    </div>
  );
}
